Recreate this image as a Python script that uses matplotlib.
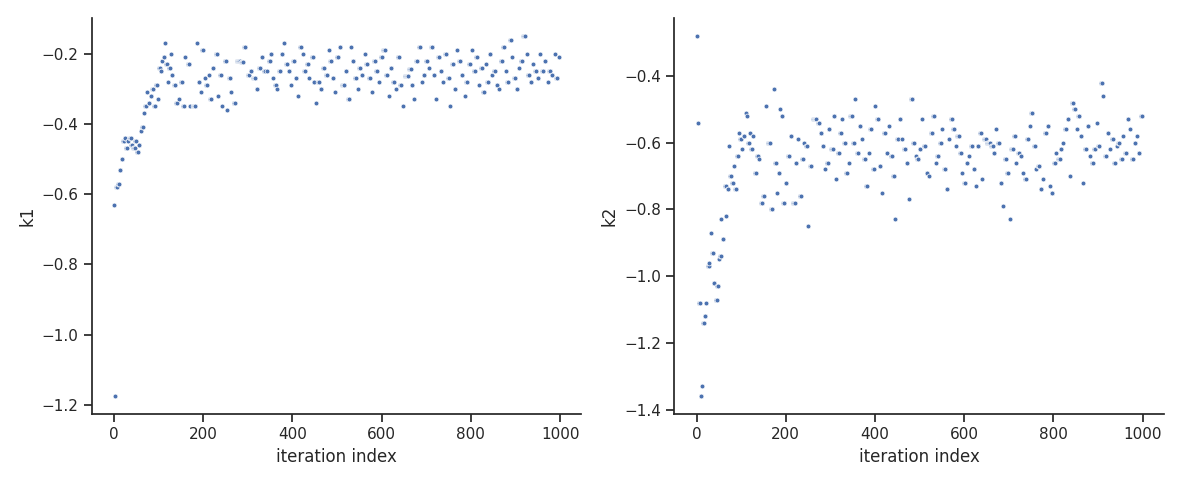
import matplotlib

matplotlib.use("Agg")
import matplotlib.pyplot as plt
import numpy as np
import seaborn as sns

# runs of repeated values: (start iteration, run length, value)
k1_runs = [
    (0, 1, -0.63), (3, 1, -1.175), (5, 3, -0.58), (10, 2, -0.57), (13, 2, -0.53), (17, 2, -0.50),
    (20, 3, -0.45), (24, 2, -0.44), (27, 3, -0.47), (31, 2, -0.45), (35, 3, -0.44), (39, 2, -0.46),
    (43, 4, -0.47), (48, 2, -0.45), (52, 2, -0.48), (56, 2, -0.46), (60, 1, -0.42), (63, 2, -0.41),
    (67, 1, -0.37), (70, 2, -0.35), (74, 1, -0.31), (78, 2, -0.34), (82, 2, -0.32), (86, 3, -0.30),
    (90, 2, -0.35), (94, 3, -0.29), (98, 1, -0.33), (101, 2, -0.24), (105, 2, -0.25), (108, 1, -0.22),
    (111, 2, -0.21), (114, 1, -0.17), (117, 2, -0.23), (120, 1, -0.28), (123, 3, -0.24), (127, 1, -0.20),
    (130, 2, -0.26), (135, 3, -0.29), (140, 2, -0.34), (145, 1, -0.33), (150, 3, -0.28), (155, 2, -0.35),
    (160, 1, -0.21), (165, 4, -0.23), (170, 1, -0.35), (178, 5, -0.35), (185, 1, -0.17), (190, 2, -0.28),
    (195, 1, -0.31), (198, 2, -0.19), (203, 1, -0.27), (207, 2, -0.29), (212, 1, -0.26), (216, 3, -0.33),
    (222, 2, -0.24), (228, 4, -0.20), (233, 1, -0.32), (238, 2, -0.26), (243, 1, -0.35), (248, 3, -0.22),
    (254, 1, -0.36), (258, 3, -0.27), (263, 1, -0.31), (268, 4, -0.34), (275, 8, -0.22), (285, 5, -0.225),
    (292, 3, -0.18), (300, 4, -0.26), (306, 3, -0.25), (312, 5, -0.27), (320, 2, -0.30), (325, 4, -0.24),
    (331, 2, -0.21), (336, 3, -0.25), (343, 1, -0.25), (347, 3, -0.22), (352, 2, -0.20), (357, 1, -0.27),
    (362, 2, -0.29), (366, 1, -0.30), (371, 3, -0.25), (376, 2, -0.20), (381, 1, -0.17), (386, 3, -0.23),
    (392, 2, -0.25), (397, 1, -0.29), (402, 3, -0.22), (408, 2, -0.27), (413, 1, -0.32), (418, 2, -0.18),
    (423, 1, -0.20), (427, 3, -0.25), (433, 2, -0.23), (438, 1, -0.27), (443, 3, -0.21), (448, 2, -0.28),
    (453, 1, -0.34), (458, 2, -0.28), (463, 3, -0.30), (469, 2, -0.24), (475, 4, -0.26), (481, 1, -0.19),
    (485, 3, -0.22), (490, 2, -0.27), (496, 1, -0.31), (500, 3, -0.21), (506, 2, -0.18), (512, 5, -0.29),
    (520, 2, -0.25), (525, 3, -0.33), (531, 1, -0.18), (535, 2, -0.22), (540, 3, -0.27), (546, 1, -0.30),
    (550, 3, -0.24), (556, 2, -0.26), (562, 1, -0.20), (566, 3, -0.23), (572, 2, -0.27), (578, 1, -0.31),
    (582, 4, -0.22), (588, 2, -0.25), (594, 1, -0.28), (598, 3, -0.21), (604, 4, -0.19), (610, 2, -0.26),
    (616, 1, -0.32), (620, 3, -0.24), (626, 2, -0.28), (632, 1, -0.30), (636, 3, -0.21), (642, 2, -0.29),
    (648, 1, -0.35), (652, 8, -0.265), (662, 4, -0.245), (668, 2, -0.29), (673, 1, -0.33), (678, 3, -0.22),
    (684, 2, -0.18), (690, 1, -0.28), (694, 3, -0.26), (700, 2, -0.22), (706, 1, -0.24), (711, 4, -0.18),
    (717, 2, -0.26), (722, 1, -0.33), (727, 3, -0.21), (733, 2, -0.25), (738, 1, -0.28), (743, 3, -0.20),
    (749, 2, -0.27), (754, 1, -0.35), (758, 3, -0.23), (764, 2, -0.30), (770, 1, -0.19), (774, 3, -0.22),
    (780, 2, -0.26), (786, 1, -0.32), (790, 3, -0.28), (796, 2, -0.23), (802, 1, -0.19), (806, 4, -0.25),
    (812, 2, -0.21), (818, 1, -0.29), (822, 3, -0.24), (828, 2, -0.31), (833, 1, -0.23), (837, 3, -0.28),
    (843, 2, -0.20), (848, 1, -0.26), (852, 3, -0.25), (858, 2, -0.29), (863, 1, -0.30), (867, 3, -0.22),
    (873, 2, -0.18), (878, 1, -0.25), (882, 3, -0.28), (888, 2, -0.16), (893, 1, -0.21), (897, 3, -0.27),
    (903, 2, -0.30), (908, 1, -0.24), (912, 3, -0.22), (918, 4, -0.15), (925, 1, -0.20), (928, 3, -0.26),
    (934, 2, -0.28), (940, 1, -0.23), (944, 3, -0.25), (950, 2, -0.27), (956, 1, -0.20), (960, 3, -0.25),
    (966, 2, -0.22), (972, 1, -0.28), (976, 3, -0.25), (982, 2, -0.26), (988, 1, -0.20), (992, 3, -0.27),
    (998, 1, -0.21),
]

k2_runs = [
    (0, 1, -0.28), (3, 1, -0.54), (5, 3, -1.08), (9, 2, -1.36), (13, 1, -1.33), (15, 2, -1.14),
    (19, 2, -1.12), (22, 1, -1.08), (25, 3, -0.97), (29, 1, -0.96), (32, 1, -0.87), (35, 3, -0.93),
    (39, 2, -1.02), (43, 3, -1.07), (47, 2, -1.03), (50, 1, -0.95), (53, 2, -0.94), (56, 1, -0.83),
    (59, 2, -0.89), (63, 3, -0.73), (67, 1, -0.82), (70, 2, -0.74), (73, 1, -0.61), (76, 2, -0.70),
    (80, 2, -0.72), (84, 1, -0.67), (87, 3, -0.74), (91, 2, -0.64), (95, 1, -0.57), (98, 2, -0.59),
    (102, 1, -0.62), (106, 2, -0.58), (110, 1, -0.51), (113, 1, -0.52), (116, 2, -0.60), (120, 1, -0.57),
    (123, 2, -0.62), (127, 1, -0.58), (131, 3, -0.69), (136, 2, -0.64), (140, 1, -0.65), (145, 3, -0.78),
    (150, 2, -0.76), (155, 1, -0.49), (160, 5, -0.60), (167, 4, -0.80), (173, 1, -0.44), (177, 2, -0.66),
    (181, 1, -0.75), (184, 2, -0.69), (188, 1, -0.50), (191, 2, -0.52), (195, 3, -0.78), (200, 2, -0.72),
    (205, 4, -0.64), (211, 2, -0.58), (216, 5, -0.78), (223, 2, -0.66), (228, 1, -0.59), (232, 3, -0.76),
    (237, 2, -0.65), (242, 1, -0.60), (246, 2, -0.61), (251, 1, -0.85), (255, 3, -0.67), (262, 8, -0.53),
    (272, 4, -0.54), (278, 3, -0.57), (283, 2, -0.61), (288, 1, -0.68), (292, 3, -0.66), (297, 2, -0.56),
    (302, 4, -0.62), (308, 2, -0.52), (313, 1, -0.71), (317, 3, -0.63), (322, 2, -0.57), (327, 1, -0.53),
    (331, 3, -0.60), (336, 2, -0.69), (341, 1, -0.66), (345, 4, -0.52), (351, 2, -0.60), (356, 1, -0.47),
    (360, 3, -0.63), (366, 2, -0.55), (371, 1, -0.59), (375, 4, -0.65), (381, 2, -0.73), (386, 1, -0.63),
    (390, 3, -0.56), (396, 2, -0.68), (401, 1, -0.49), (405, 3, -0.53), (411, 2, -0.67), (416, 1, -0.75),
    (420, 3, -0.57), (426, 2, -0.63), (431, 1, -0.55), (435, 4, -0.64), (441, 2, -0.70), (446, 1, -0.83),
    (450, 3, -0.59), (456, 2, -0.53), (461, 1, -0.59), (465, 4, -0.62), (471, 2, -0.66), (476, 1, -0.77),
    (480, 4, -0.47), (486, 2, -0.60), (491, 1, -0.64), (495, 3, -0.65), (501, 2, -0.62), (506, 1, -0.53),
    (510, 3, -0.61), (516, 2, -0.69), (521, 1, -0.70), (525, 4, -0.57), (531, 2, -0.52), (536, 1, -0.66),
    (540, 3, -0.64), (546, 2, -0.60), (551, 1, -0.56), (555, 4, -0.68), (561, 2, -0.74), (566, 1, -0.59),
    (570, 3, -0.53), (576, 2, -0.56), (581, 1, -0.61), (585, 4, -0.58), (591, 2, -0.63), (596, 1, -0.69),
    (600, 3, -0.72), (606, 2, -0.66), (611, 1, -0.64), (615, 4, -0.61), (621, 2, -0.68), (626, 1, -0.73),
    (630, 3, -0.61), (636, 2, -0.57), (641, 1, -0.71), (645, 4, -0.59), (651, 8, -0.60), (661, 4, -0.61),
    (667, 2, -0.63), (672, 1, -0.56), (676, 3, -0.60), (682, 2, -0.72), (687, 1, -0.79), (691, 3, -0.65),
    (697, 2, -0.69), (702, 1, -0.83), (706, 4, -0.62), (712, 2, -0.58), (717, 1, -0.66), (721, 3, -0.63),
    (727, 2, -0.64), (732, 1, -0.69), (736, 3, -0.71), (742, 2, -0.59), (747, 1, -0.55), (751, 3, -0.51),
    (757, 2, -0.61), (762, 1, -0.68), (766, 3, -0.67), (772, 2, -0.74), (777, 1, -0.71), (781, 3, -0.57),
    (787, 2, -0.55), (792, 1, -0.73), (796, 3, -0.75), (802, 2, -0.66), (807, 1, -0.63), (811, 4, -0.65),
    (817, 2, -0.62), (822, 1, -0.60), (826, 3, -0.56), (832, 2, -0.53), (837, 1, -0.70), (841, 4, -0.48),
    (847, 2, -0.50), (852, 1, -0.56), (856, 3, -0.52), (862, 2, -0.58), (867, 1, -0.72), (871, 3, -0.62),
    (877, 2, -0.55), (882, 1, -0.64), (886, 3, -0.66), (892, 2, -0.62), (897, 1, -0.54), (901, 3, -0.61),
    (907, 2, -0.42), (912, 1, -0.46), (916, 3, -0.64), (922, 2, -0.57), (927, 1, -0.62), (931, 3, -0.59),
    (937, 2, -0.66), (942, 1, -0.61), (946, 3, -0.60), (952, 2, -0.65), (957, 1, -0.58), (961, 3, -0.63),
    (967, 2, -0.53), (972, 1, -0.56), (976, 3, -0.65), (982, 2, -0.60), (987, 1, -0.58), (991, 3, -0.63),
    (997, 2, -0.52),
]


def expand(runs):
    xs, ys = [], []
    for start, length, val in runs:
        for i in range(length):
            xs.append(start + i)
            ys.append(val)
    return np.array(xs), np.array(ys)


sns.set_theme(style="ticks")

fig, axes = plt.subplots(1, 2, figsize=(11.83, 4.84), dpi=100)
for ax, runs, name in zip(axes, [k1_runs, k2_runs], ["k1", "k2"]):
    x, y = expand(runs)
    sns.scatterplot(x=x, y=y, ax=ax, s=12, color="#4c72b0", edgecolor="white", linewidth=0.5)
    ax.set_xlabel("iteration index")
    ax.set_ylabel(name)
    ax.set_xticks([0, 200, 400, 600, 800, 1000])
    sns.despine(ax=ax)

axes[0].set_yticks([-1.2, -1.0, -0.8, -0.6, -0.4, -0.2])
axes[1].set_yticks([-1.4, -1.2, -1.0, -0.8, -0.6, -0.4])
fig.tight_layout()
fig.savefig("out.png")
